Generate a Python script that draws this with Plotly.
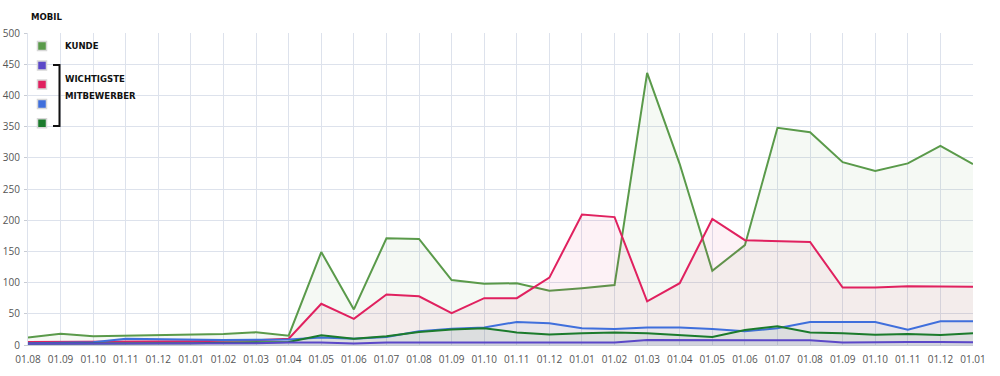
import plotly.graph_objects as go

# ---------------- data ----------------
months = ["01.08", "01.09", "01.10", "01.11", "01.12", "01.01", "01.02", "01.03",
          "01.04", "01.05", "01.06", "01.07", "01.08", "01.09", "01.10", "01.11",
          "01.12", "01.01", "01.02", "01.03", "01.04", "01.05", "01.06", "01.07",
          "01.08", "01.09", "01.10", "01.11", "01.12", "01.01"]

kunde = [12, 18, 14, 15, 15, 16.5, 17.5, 20.5, 15, 149, 57, 171, 170, 104, 98, 99,
         87, 91, 96, 436, 290, 119, 160, 348, 341, 293, 279, 291, 319, 290]
mitbewerber_rot = [5, 5, 5, 6, 6, 6, 7, 7.5, 10, 66, 42, 81, 78, 51, 75, 75,
                   108, 209, 205, 70, 99, 202, 168, 166, 165, 92, 92, 94, 94, 93.5]
mitbewerber_blau = [3, 4, 4.5, 10, 9, 8, 8, 8.5, 9, 12, 10, 13, 22, 26, 28, 37,
                    35, 27, 25.5, 28, 28, 25.5, 22, 27, 37, 37, 37, 24.5, 38, 38]
mitbewerber_gruen = [2, 2.5, 2.5, 3, 3, 3, 4, 4, 5, 15.5, 10, 14, 21, 25, 27, 20,
                     17, 19, 20, 19, 15.5, 13, 24, 30, 20, 19, 16.5, 17.5, 16, 19]
mitbewerber_lila = [2, 2, 2, 2, 2, 2, 3, 3, 4, 4, 2.5, 4, 4, 4, 4, 4,
                    4, 4, 4, 8, 8, 8, 7.5, 8, 7.5, 4, 5, 5, 5, 4.5]

y_ticks = [0, 50, 100, 150, 200, 250, 300, 350, 400, 450, 500]

# ---------------- style ----------------
W, H = 1000, 376
L, R, T, B = 28, 27, 33, 31
PW, PH = W - L - R, H - T - B

C_KUNDE = "#5a9a4a"
C_LILA = "#5b48c8"
C_ROT = "#e0215f"
C_BLAU = "#3f6fdc"
C_GRUEN = "#1b7b2c"

def rgba(hexc, a):
    h = hexc.lstrip("#")
    return "rgba(%d,%d,%d,%s)" % (int(h[0:2], 16), int(h[2:4], 16), int(h[4:6], 16), a)

x = list(range(len(months)))

fig = go.Figure()
series = [
    ("Kunde", kunde, C_KUNDE, 0.06),
    ("Mitbewerber 2", mitbewerber_rot, C_ROT, 0.06),
    ("Mitbewerber 3", mitbewerber_blau, C_BLAU, 0.06),
    ("Mitbewerber 4", mitbewerber_gruen, C_GRUEN, 0.06),
    ("Mitbewerber 1", mitbewerber_lila, C_LILA, 0.08),
]
for name, vals, col, a in series:
    fig.add_trace(go.Scatter(
        x=x, y=vals, name=name, mode="lines",
        line=dict(color=col, width=2),
        fill="tozeroy", fillcolor=rgba(col, a),
        hoverinfo="x+y",
    ))

def px2paper(X, Y):
    return (X - L) / PW, (H - B - Y) / PH

shapes = []
# white legend box
x0, y0 = px2paper(29, 34)
x1, y1 = px2paper(220, 131)
shapes.append(dict(type="rect", xref="paper", yref="paper", x0=x0, x1=x1, y0=y1, y1=y0,
                   fillcolor="white", line=dict(width=0), layer="below"))

legend_items = [(46, C_KUNDE), (65.5, C_LILA), (84.5, C_ROT), (104, C_BLAU), (123.3, C_GRUEN)]
for cy, col in legend_items:
    ax0, ay0 = px2paper(37.5, cy - 4.5)
    ax1, ay1 = px2paper(46.5, cy + 4.5)
    shapes.append(dict(type="rect", xref="paper", yref="paper", x0=ax0, x1=ax1, y0=ay1, y1=ay0,
                       fillcolor=col, line=dict(color="#d8d8d8", width=1.5), layer="above"))

# bracket
bx, bt = px2paper(59.5, 65)
_, bb = px2paper(59.5, 126)
bl, _ = px2paper(53, 65)
shapes.append(dict(type="path", xref="paper", yref="paper",
                   path="M %f %f L %f %f L %f %f L %f %f" % (bl, bt, bx, bt, bx, bb, bl, bb),
                   line=dict(color="#111111", width=2), layer="above"))

TITLE_FONT = "DejaVu Sans Condensed, Liberation Sans Narrow, sans-serif"
annotations = []
for text, X, Y in [("KUNDE", 63, 46), ("WICHTIGSTE", 63, 78), ("MITBEWERBER", 63, 96)]:
    ax, ay = px2paper(X, Y)
    annotations.append(dict(text="<b>%s</b>" % text, x=ax, y=ay, xref="paper", yref="paper",
                            xanchor="left", yanchor="middle", showarrow=False,
                            font=dict(family=TITLE_FONT, size=9.5, color="#111111")))
ax, ay = px2paper(29, 16.5)
annotations.append(dict(text="<b>MOBIL</b>", x=ax, y=ay, xref="paper", yref="paper",
                        xanchor="left", yanchor="middle", showarrow=False,
                        font=dict(family=TITLE_FONT, size=9.5, color="#111111")))

GRID = "#dde2ec"
fig.update_layout(
    width=W, height=H,
    margin=dict(l=L, r=R, t=T, b=B, pad=0, autoexpand=False),
    paper_bgcolor="white", plot_bgcolor="white",
    showlegend=False,
    shapes=shapes, annotations=annotations,
    font=dict(family="Open Sans, sans-serif", size=10, color="#555555"),
    xaxis=dict(
        range=[0, len(months) - 1], tickmode="array", tickvals=x, ticktext=months,
        showgrid=True, gridcolor=GRID, gridwidth=1, zeroline=False,
        showline=True, linecolor="#c8ccd4", linewidth=1,
        ticks="outside", ticklen=2, tickcolor="rgba(0,0,0,0)",
        ticklabelstandoff=3, automargin=False,
        tickfont=dict(family="Open Sans, sans-serif", size=10, color="#555555"),
        fixedrange=True,
    ),
    yaxis=dict(
        range=[0, 500], tickmode="array", tickvals=y_ticks,
        showgrid=True, gridcolor=GRID, gridwidth=1, zeroline=False,
        showline=True, linecolor="#dde2ec", linewidth=1,
        ticks="outside", ticklen=3, tickcolor="#c8ccd4",
        ticklabelstandoff=2, automargin=False,
        tickfont=dict(family="Open Sans, sans-serif", size=10, color="#555555"),
        fixedrange=True,
    ),
)

fig.write_html("out.html")
